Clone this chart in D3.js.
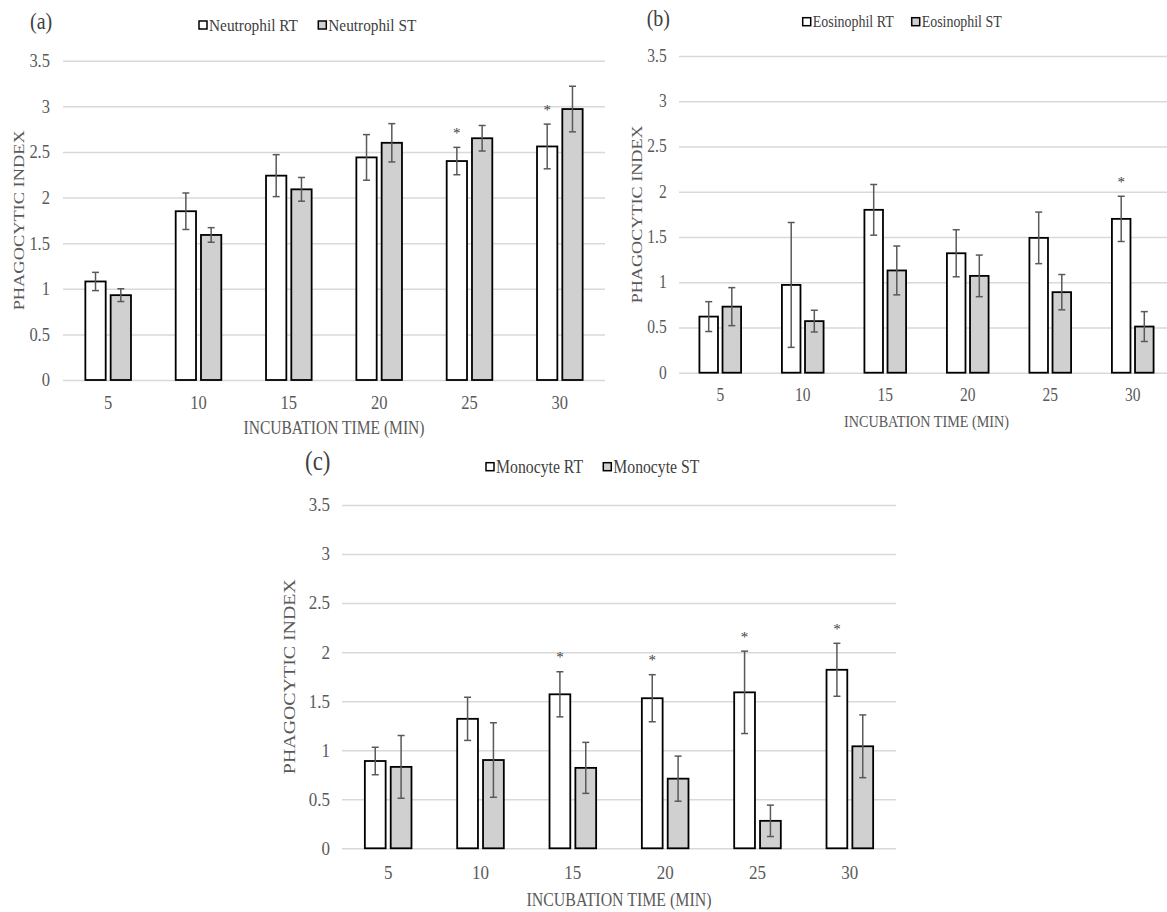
<!DOCTYPE html>
<html>
<head>
<meta charset="utf-8">
<script src="https://cdn.jsdelivr.net/npm/d3@7"></script>
<style>
  html, body { margin: 0; padding: 0; background: #fff; }
  svg { display: block; }
</style>
</head>
<body>
<svg id="chart" width="1167" height="912"></svg>
<script>
// ---------------- DATA ----------------
const categories = ["5", "10", "15", "20", "25", "30"];
const yTickValues = [0, 0.5, 1, 1.5, 2, 2.5, 3, 3.5];
const yTickLabels = ["0", "0.5", "1", "1.5", "2", "2.5", "3", "3.5"];
const xAxisTitle = "INCUBATION TIME (MIN)";
const yAxisTitle = "PHAGOCYTIC INDEX";

const panelLetters = ["(a)", "(b)", "(c)"];
const seriesNames = [
  ["Neutrophil RT", "Neutrophil ST"],
  ["Eosinophil RT", "Eosinophil ST"],
  ["Monocyte RT", "Monocyte ST"]
];

const neutrophilRT    = [1.08, 1.85, 2.24, 2.44, 2.40, 2.56];
const neutrophilRTErr = [0.10, 0.20, 0.23, 0.25, 0.15, 0.245];
const neutrophilST    = [0.93, 1.59, 2.09, 2.60, 2.65, 2.97];
const neutrophilSTErr = [0.07, 0.08, 0.13, 0.21, 0.14, 0.25];
const neutrophilStars = ["25", "30"];

const eosinophilRT    = [0.62, 0.97, 1.80, 1.32, 1.49, 1.70];
const eosinophilRTErr = [0.165, 0.69, 0.28, 0.26, 0.285, 0.25];
const eosinophilST    = [0.73, 0.57, 1.13, 1.07, 0.89, 0.51];
const eosinophilSTErr = [0.21, 0.12, 0.27, 0.23, 0.195, 0.165];
const eosinophilStars = ["30"];

const monocyteRT    = [0.89, 1.32, 1.57, 1.53, 1.59, 1.82];
const monocyteRTErr = [0.14, 0.22, 0.23, 0.24, 0.42, 0.27];
const monocyteST    = [0.83, 0.90, 0.82, 0.71, 0.28, 1.04];
const monocyteSTErr = [0.32, 0.38, 0.26, 0.23, 0.16, 0.32];
const monocyteStars = ["15", "20", "25", "30"];

// ---------------- LAYOUT ----------------
const FONT = "'Liberation Serif', Tinos, 'Times New Roman', 'Nimbus Roman', 'DejaVu Serif', serif";
const FONT_STRETCH = 1.15;
const TEXT_GRAY = "#595959";
const GRID = "#d9d9d9";
const ST_FILL = "#d0d0d0";
const ERR_COLOR = "#595959";

const panels = [
  { letter: panelLetters[0], names: seriesNames[0],
    rt: neutrophilRT, rtErr: neutrophilRTErr, st: neutrophilST, stErr: neutrophilSTErr, stars: neutrophilStars,
    x0: 63, x1: 605, yTop: 60.7, yBottom: 380,
    tickRight: 50, xTickY: 402.7, xTitleY: 427.7, yTitleX: 18.3, yTitleLen: 180,
    legendY: 25, legendRT: 199, legendST: 318.3, legendFont: 15, legendRTLen: 89, legendSTLen: 88,
    letterX: 30, letterY: 21.7, letterFont: 20, tickFont: 16.5, titleFont: 15.5, xTitleLen: 181 },
  { letter: panelLetters[1], names: seriesNames[1],
    rt: eosinophilRT, rtErr: eosinophilRTErr, st: eosinophilST, stErr: eosinophilSTErr, stars: eosinophilStars,
    x0: 679, x1: 1174, yTop: 56, yBottom: 372.7,
    tickRight: 666.7, xTickY: 395, xTitleY: 420.7, yTitleX: 637.3, yTitleLen: 178,
    legendY: 21.7, legendRT: 802.7, legendST: 911.7, legendFont: 14, legendRTLen: 81, legendSTLen: 80,
    letterX: 646.7, letterY: 18.3, letterFont: 20, tickFont: 15.5, titleFont: 15, xTitleLen: 165 },
  { letter: panelLetters[2], names: seriesNames[2],
    rt: monocyteRT, rtErr: monocyteRTErr, st: monocyteST, stErr: monocyteSTErr, stars: monocyteStars,
    x0: 342, x1: 896, yTop: 505, yBottom: 848.3,
    tickRight: 330, xTickY: 872.3, xTitleY: 900, yTitleX: 289.3, yTitleLen: 195,
    legendY: 466.7, legendRT: 486, legendST: 603.3, legendFont: 15.5, legendRTLen: 87, legendSTLen: 86,
    letterX: 305, letterY: 460.7, letterFont: 23, tickFont: 17, titleFont: 16, xTitleLen: 185 }
];

const svg = d3.select("#chart").attr("font-family", FONT);

function stretchedText(g, x, y, str, opts) {
  const t = g.append("text")
    .attr("transform", `translate(${x},${y}) scale(1,${FONT_STRETCH})`)
    .attr("text-anchor", opts.anchor || "middle")
    .attr("dominant-baseline", "central")
    .attr("font-family", FONT)
    .attr("font-size", opts.size)
    .attr("fill", opts.fill || TEXT_GRAY)
    .text(str);
  if (opts.len) t.attr("textLength", opts.len).attr("lengthAdjust", "spacingAndGlyphs");
  return t;
}

panels.forEach(p => {
  const g = svg.append("g");
  const x = d3.scaleBand().domain(categories).range([p.x0, p.x1]).paddingInner(0).paddingOuter(0);
  const y = d3.scaleLinear().domain([0, 3.5]).range([p.yBottom, p.yTop]);
  const bw = x.bandwidth();
  const barW = bw * 0.225, gap = bw * 0.055;

  // gridlines via axis
  const yAxis = d3.axisLeft(y).tickValues(yTickValues).tickSize(-(p.x1 - p.x0)).tickFormat("");
  const ga = g.append("g").attr("transform", `translate(${p.x0},0)`).call(yAxis);
  ga.select(".domain").remove();
  ga.selectAll(".tick line").attr("stroke", GRID).attr("stroke-width", 1.5);

  // y tick labels
  yTickValues.forEach((v, i) => {
    stretchedText(g, p.tickRight, y(v), yTickLabels[i], { anchor: "end", size: p.tickFont });
  });

  // x tick labels
  categories.forEach(c => {
    stretchedText(g, x(c) + bw / 2, p.xTickY, c, { size: p.tickFont });
  });

  // bars
  const rows = categories.map((c, i) => ({ c, rt: p.rt[i], rtE: p.rtErr[i], st: p.st[i], stE: p.stErr[i] }));
  const rtX = d => x(d.c) + bw / 2 - gap / 2 - barW;
  const stX = d => x(d.c) + bw / 2 + gap / 2;

  g.selectAll(".rt").data(rows).enter().append("rect")
    .attr("x", rtX).attr("width", barW)
    .attr("y", d => y(d.rt)).attr("height", d => y(0) - y(d.rt))
    .attr("fill", "#ffffff").attr("stroke", "#000").attr("stroke-width", 1.8);
  g.selectAll(".st").data(rows).enter().append("rect")
    .attr("x", stX).attr("width", barW)
    .attr("y", d => y(d.st)).attr("height", d => y(0) - y(d.st))
    .attr("fill", ST_FILL).attr("stroke", "#000").attr("stroke-width", 1.8);

  // error bars
  const cap = 3.5;
  function errBar(cx, m, e) {
    const yt = y(m + e), yb = y(m - e);
    g.append("line").attr("x1", cx).attr("x2", cx).attr("y1", yt).attr("y2", yb)
      .attr("stroke", ERR_COLOR).attr("stroke-width", 1.5);
    [yt, yb].forEach(yy => g.append("line").attr("x1", cx - cap).attr("x2", cx + cap)
      .attr("y1", yy).attr("y2", yy).attr("stroke", ERR_COLOR).attr("stroke-width", 1.5));
  }
  rows.forEach(d => {
    errBar(rtX(d) + barW / 2, d.rt, d.rtE);
    errBar(stX(d) + barW / 2, d.st, d.stE);
  });

  // significance stars
  rows.filter(d => p.stars.includes(d.c)).forEach(d => {
    g.append("text")
      .attr("x", rtX(d) + barW / 2)
      .attr("y", y(d.rt + d.rtE) - 16 + 6.5)
      .attr("text-anchor", "middle")
      .attr("font-family", FONT)
      .attr("font-size", 15)
      .attr("fill", "#404040")
      .text("*");
  });

  // axis titles
  stretchedText(g, (p.x0 + p.x1) / 2, p.xTitleY, xAxisTitle, { size: p.titleFont, len: p.xTitleLen });
  g.append("text")
    .attr("transform", `translate(${p.yTitleX},${(p.yTop + p.yBottom) / 2}) rotate(-90)`)
    .attr("text-anchor", "middle")
    .attr("dominant-baseline", "central")
    .attr("font-family", FONT)
    .attr("font-size", p.titleFont)
    .attr("fill", TEXT_GRAY)
    .attr("textLength", p.yTitleLen).attr("lengthAdjust", "spacingAndGlyphs")
    .text(yAxisTitle);

  // legend
  const box = 8;
  [[p.legendRT, "#ffffff", p.names[0], p.legendRTLen], [p.legendST, ST_FILL, p.names[1], p.legendSTLen]].forEach(([lx, fill, name, len]) => {
    g.append("rect").attr("x", lx).attr("y", p.legendY - box / 2).attr("width", box).attr("height", box)
      .attr("fill", fill).attr("stroke", "#000").attr("stroke-width", 1.5);
    stretchedText(g, lx + box + 2, p.legendY, name, { anchor: "start", size: p.legendFont, fill: "#404040", len: len });
  });

  // panel letter
  stretchedText(g, p.letterX, p.letterY, p.letter, { anchor: "start", size: p.letterFont, fill: "#404040" });
});
</script>
</body>
</html>
